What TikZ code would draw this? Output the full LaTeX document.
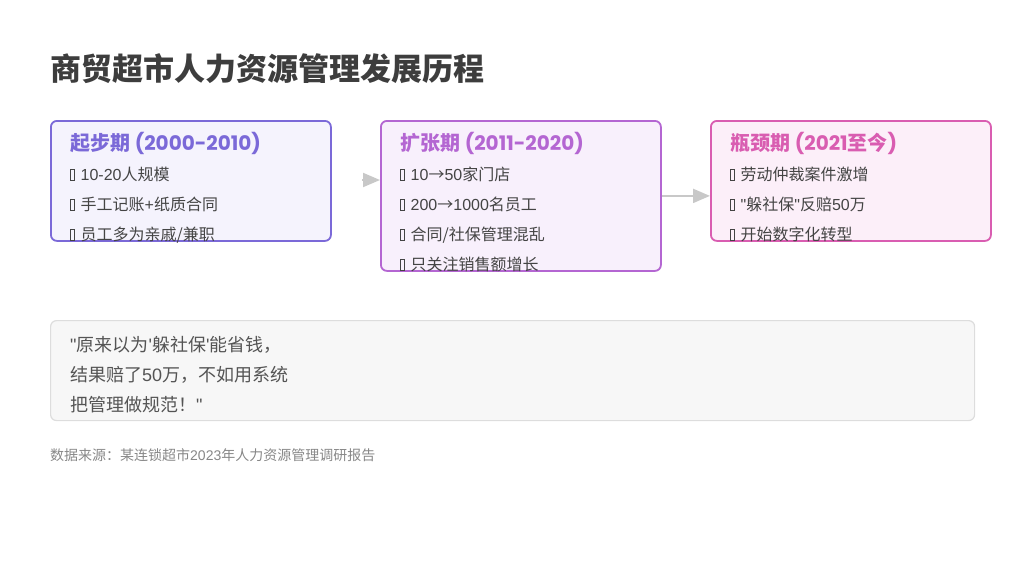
\documentclass[tikz,border=0pt]{standalone}
\usepackage{fontspec}
\setmainfont{Noto Sans CJK SC}[Ligatures=TeXOff]
\newfontfamily\lt{Liberation Sans}
\newfontfamily\ltt{Poppins}
\usetikzlibrary{arrows.meta}
\usetikzlibrary{positioning}

\definecolor{stageA}{HTML}{7B69D8}
\definecolor{stageB}{HTML}{B466D2}
\definecolor{stageC}{HTML}{D95DB1}
\definecolor{fillA}{HTML}{F5F3FD}
\definecolor{fillB}{HTML}{F8F0FC}
\definecolor{fillC}{HTML}{FCEFF9}
\definecolor{inktext}{HTML}{444444}
\definecolor{quotebg}{HTML}{F7F7F7}
\definecolor{quoteline}{HTML}{DDDDDD}
\definecolor{arrowgray}{HTML}{C8C8C8}

% missing-glyph box used as bullet
\newcommand{\tofu}{{\fboxsep=0pt\fboxrule=0.5pt\fbox{\rule{0pt}{11pt}\hspace{3.5pt}}}\hspace{6pt}}

\begin{document}
\begin{tikzpicture}[x=1pt, y=1pt,
    stage/.style={draw, line width=1.8pt, rounded corners=6pt, minimum width=280pt, anchor=north west, inner sep=0pt},
    stagetitle/.style={anchor=base west, inner sep=0pt, font=\fontsize{20}{24}\selectfont\bfseries},
    item/.style={anchor=base west, inner sep=0pt, text=inktext, font=\fontsize{16}{19}\selectfont},
    quoteline/.style={anchor=base west, inner sep=0pt, text=black!67, font=\fontsize{18}{22}\selectfont},
    flow/.style={-{Triangle[length=17pt, width=14pt]}, line width=2pt, arrowgray}]
    \useasboundingbox (0,0) rectangle (1024,-576);

    % Title
    \node[anchor=base west, inner sep=0pt, text=black!76, font=\fontsize{31}{36}\selectfont\bfseries] (title) at (50,-80) {商贸超市人力资源管理发展历程};

    % Stage 1
    \node[stage, stageA, fill=fillA, minimum height=120pt] (box1) at (50,-120) {};
    \node[stagetitle, text=stageA] (t1) at (70,-150) {起步期 {\ltt (2000-2010)}};
    \node[item] (t1a) at (70,-180) {\tofu {\lt 10-20}人规模};
    \node[item] (t1b) at (70,-210) {\tofu 手工记账{\lt +}纸质合同};
    \node[item] (t1c) at (70,-240) {\tofu 员工多为亲戚/兼职};

    % Stage 2
    \node[stage, stageB, fill=fillB, minimum height=150pt] (box2) at (380,-120) {};
    \node[stagetitle, text=stageB] (t2) at (400,-150) {扩张期 {\ltt (2011-2020)}};
    \node[item] (t2a) at (400,-180) {\tofu {\lt 10}→{\lt 50}家门店};
    \node[item] (t2b) at (400,-210) {\tofu {\lt 200}→{\lt 1000}名员工};
    \node[item] (t2c) at (400,-240) {\tofu 合同/社保管理混乱};
    \node[item] (t2d) at (400,-270) {\tofu 只关注销售额增长};

    % Stage 3
    \node[stage, stageC, fill=fillC, minimum height=120pt] (box3) at (710,-120) {};
    \node[stagetitle, text=stageC] (t3) at (730,-150) {瓶颈期 {\ltt (2021}至今{\ltt )}};
    \node[item] (t3a) at (730,-180) {\tofu 劳动仲裁案件激增};
    \node[item] (t3b) at (730,-210) {\tofu {\lt "}躲社保{\lt "}反赔{\lt 50}万};
    \node[item] (t3c) at (730,-240) {\tofu 开始数字化转型};

    % Arrows
    \coordinate (a1) at (362,-180);
    \draw[flow] (a1) -- (box2.west |- a1);
    \draw[flow] (box2.east) -- (box3.west |- box2.east);

    % Quote
    \node[draw=quoteline, fill=quotebg, line width=1.2pt, rounded corners=6pt, minimum width=924pt, minimum height=100pt, anchor=north west, inner sep=0pt] (quote) at (50,-320) {};
    \node[quoteline] (q1) at (70,-351) {{\lt "}原来以为{\lt '}躲社保{\lt '}能省钱，};
    \node[quoteline] (q2) at (70,-381) {结果赔了{\lt 50}万，不如用系统};
    \node[quoteline] (q3) at (70,-411) {把管理做规范！{\lt "}};

    % Source
    \node[anchor=base west, inner sep=0pt, text=black!47, font=\fontsize{14}{17}\selectfont] (source) at (50,-460) {数据来源：某连锁超市{\lt 2023}年人力资源管理调研报告};
\end{tikzpicture}
\end{document}
